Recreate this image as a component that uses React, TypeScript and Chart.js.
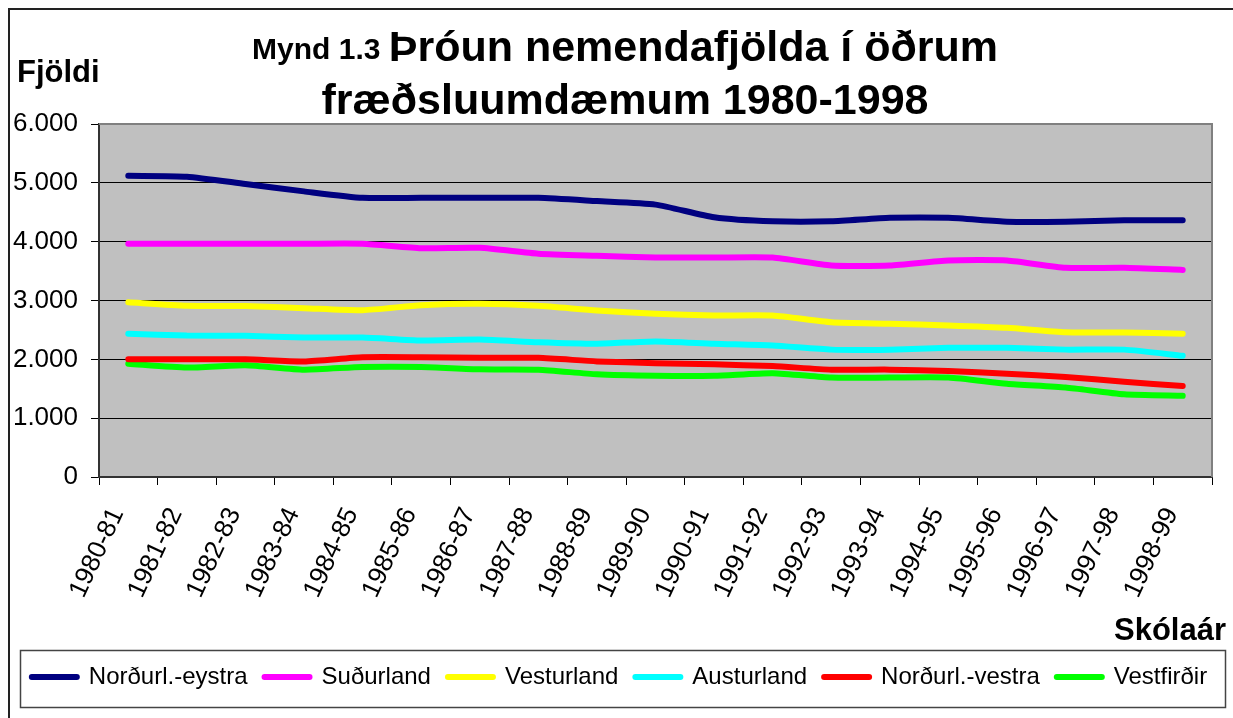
import React, { useEffect, useRef } from 'react';
import { Chart, registerables } from 'chart.js';

Chart.register(...registerables);

const FONT = '"Liberation Sans", Arial, Helvetica, sans-serif';

const categories = [
  '1980-81', '1981-82', '1982-83', '1983-84', '1984-85', '1985-86', '1986-87',
  '1987-88', '1988-89', '1989-90', '1990-91', '1991-92', '1992-93', '1993-94',
  '1994-95', '1995-96', '1996-97', '1997-98', '1998-99',
];

const seriesNames = ['Norðurl.-eystra', 'Suðurland', 'Vesturland', 'Austurland', 'Norðurl.-vestra', 'Vestfirðir'];
const seriesColors = ['#000080', '#FF00FF', '#FFFF00', '#00FFFF', '#FF0000', '#00FF00'];

const nordurlEystra = [5120, 5105, 4980, 4855, 4745, 4745, 4745, 4745, 4690, 4630, 4415, 4345, 4345, 4405, 4405, 4340, 4340, 4365, 4365];
const sudurland = [3965, 3965, 3965, 3965, 3965, 3890, 3895, 3795, 3760, 3730, 3730, 3730, 3595, 3595, 3680, 3680, 3555, 3555, 3520];
const vesturland = [2970, 2910, 2905, 2870, 2835, 2920, 2945, 2910, 2830, 2775, 2745, 2745, 2630, 2605, 2575, 2535, 2460, 2455, 2435];
const austurland = [2435, 2405, 2400, 2370, 2370, 2320, 2335, 2290, 2265, 2305, 2265, 2235, 2165, 2165, 2195, 2195, 2165, 2165, 2060];
const nordurlVestra = [2000, 2000, 2000, 1965, 2035, 2035, 2025, 2025, 1965, 1935, 1915, 1885, 1825, 1825, 1800, 1755, 1700, 1620, 1545];
const vestfirdir = [1925, 1860, 1900, 1825, 1870, 1870, 1830, 1825, 1745, 1720, 1720, 1765, 1690, 1690, 1690, 1585, 1520, 1405, 1380];

const seriesValues = [nordurlEystra, sudurland, vesturland, austurland, nordurlVestra, vestfirdir];

const yTickValues = [0, 1000, 2000, 3000, 4000, 5000, 6000];
const yTickLabels = ['0', '1.000', '2.000', '3.000', '4.000', '5.000', '6.000'];

const titleSmall = 'Mynd 1.3 ';
const titleLine1 = 'Þróun nemendafjölda í öðrum';
const titleLine2 = 'fræðsluumdæmum 1980-1998';
const yAxisTitle = 'Fjöldi';
const xAxisTitle = 'Skólaár';

const decorPlugin = {
  id: 'decor',
  beforeDraw(chart: any) {
    const { ctx, chartArea: a } = chart;
    ctx.save();
    ctx.fillStyle = '#FFFFFF';
    ctx.fillRect(0, 0, chart.width, chart.height);
    ctx.fillStyle = '#C0C0C0';
    ctx.fillRect(a.left, a.top, a.right - a.left, a.bottom - a.top);
    ctx.restore();
  },
  beforeDatasetsDraw(chart: any) {
    const { ctx, chartArea: a } = chart;
    ctx.save();
    ctx.strokeStyle = '#808080';
    ctx.lineWidth = 2;
    ctx.beginPath();
    ctx.moveTo(a.left, a.top);
    ctx.lineTo(a.right, a.top);
    ctx.lineTo(a.right, a.bottom);
    ctx.stroke();
    ctx.restore();
  },
  afterDraw(chart: any) {
    const { ctx } = chart;
    ctx.save();
    // outer frame
    ctx.strokeStyle = '#222';
    ctx.lineWidth = 2;
    ctx.beginPath();
    ctx.moveTo(9, chart.height);
    ctx.lineTo(9, 9);
    ctx.lineTo(chart.width, 9);
    ctx.stroke();

    // legend frame
    ctx.strokeStyle = '#444';
    ctx.lineWidth = 1.5;
    ctx.strokeRect(20.5, 650.5, 1205, 57);

    // title
    ctx.fillStyle = '#000';
    ctx.textBaseline = 'alphabetic';
    const cx = 625;
    ctx.font = `bold 30px ${FONT}`;
    const wSmall = ctx.measureText(titleSmall).width;
    ctx.font = `bold 43px ${FONT}`;
    const wBig = ctx.measureText(titleLine1).width;
    const start = cx - (wSmall + wBig) / 2;
    ctx.textAlign = 'left';
    ctx.font = `bold 30px ${FONT}`;
    ctx.fillText(titleSmall, start, 59);
    ctx.font = `bold 43px ${FONT}`;
    ctx.fillText(titleLine1, start + wSmall, 61);
    ctx.textAlign = 'center';
    ctx.fillText(titleLine2, cx, 114);

    // axis titles
    ctx.font = `bold 31px ${FONT}`;
    ctx.textAlign = 'left';
    ctx.fillText(yAxisTitle, 17, 82);
    ctx.textAlign = 'right';
    ctx.fillText(xAxisTitle, 1226, 640);
    ctx.restore();
  },
};

export default function App() {
  const ref = useRef<HTMLCanvasElement>(null);

  useEffect(() => {
    if (!ref.current) return;
    const chart = new Chart(ref.current, {
      type: 'line',
      data: {
        labels: categories,
        datasets: seriesNames.map((name, i) => ({
          label: name,
          data: seriesValues[i],
          borderColor: seriesColors[i],
          backgroundColor: seriesColors[i],
          borderWidth: 6,
          borderCapStyle: 'round',
          borderJoinStyle: 'round',
          pointRadius: 0,
          pointHoverRadius: 0,
          tension: 0.2,
          fill: false,
        })),
      },
      options: {
        responsive: false,
        animation: false,
        events: [],
        layout: { padding: { top: 124, left: 6, right: 0, bottom: 19 } },
        font: { family: FONT },
        plugins: {
          title: { display: false },
          tooltip: { enabled: false },
          legend: {
            display: true,
            position: 'bottom',
            labels: {
              color: '#000',
              font: { family: FONT, size: 24 },
              usePointStyle: true,
              pointStyle: 'line',
              pointStyleWidth: 45,
              padding: 17,
              generateLabels: (c: any) =>
                c.data.datasets.map((ds: any, i: number) => ({
                  text: ds.label,
                  fillStyle: ds.borderColor,
                  strokeStyle: ds.borderColor,
                  lineWidth: 6,
                  lineCap: 'round',
                  pointStyle: 'line',
                  hidden: false,
                  datasetIndex: i,
                  fontColor: '#000',
                })),
            },
          },
        },
        scales: {
          x: {
            type: 'category',
            offset: true,
            afterFit: (s: any) => { s.height = 171; },
            grid: {
              display: true,
              drawOnChartArea: false,
              drawTicks: true,
              tickLength: 8,
              color: '#000',
              offset: true,
            },
            border: { display: true, color: '#333', width: 2 },
            ticks: {
              color: '#000',
              font: { family: FONT, size: 26 },
              minRotation: 65,
              maxRotation: 65,
              autoSkip: false,
              padding: 18,
              labelOffset: -11,
            },
          },
          y: {
            min: 0,
            max: 6000,
            afterFit: (s: any) => { s.width = 93; },
            afterBuildTicks: (s: any) => { s.ticks = yTickValues.map((v) => ({ value: v })); },
            grid: {
              color: (c: any) => (c.tick && c.tick.value === 6000 ? '#808080' : '#000'),
              tickColor: '#000',
              lineWidth: 1,
              tickLength: 8,
            },
            border: { display: true, color: '#333', width: 2 },
            ticks: {
              color: '#000',
              font: { family: FONT, size: 26 },
              padding: 13,
              callback: (v: any) => {
                const idx = yTickValues.indexOf(Number(v));
                return idx >= 0 ? yTickLabels[idx] : '';
              },
            },
          },
          yRight: {
            type: 'linear',
            position: 'right',
            display: true,
            min: 0,
            max: 6000,
            afterFit: (s: any) => { s.width = 21; },
            grid: { display: false, drawTicks: false },
            border: { display: false },
            ticks: { display: false },
          },
        },
      },
      plugins: [decorPlugin],
    } as any);
    return () => chart.destroy();
  }, []);

  return (
    <div style={{ position: 'absolute', left: 0, top: 0, width: 1233, height: 718, background: '#fff' }}>
      <canvas ref={ref} width={1233} height={718} style={{ display: 'block', width: 1233, height: 718 }} />
    </div>
  );
}
